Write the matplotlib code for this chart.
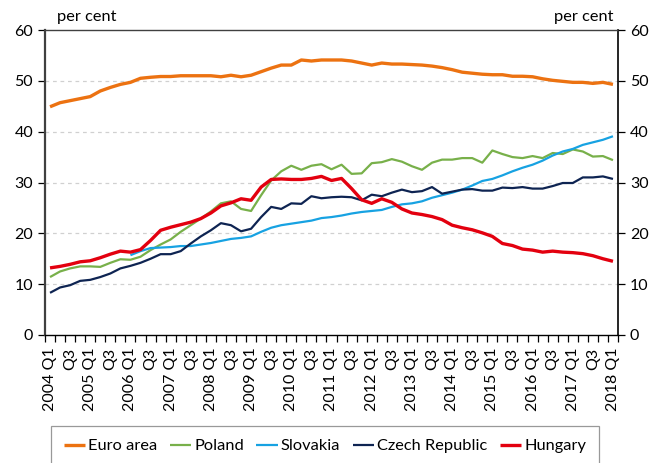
import matplotlib
matplotlib.use("Agg")
import matplotlib.pyplot as plt
import numpy as np

plt.rcParams['font.family'] = ['Lato', 'DejaVu Sans']

years = list(range(2004, 2019))
quarters = [f"{y} Q{q}" for y in years for q in (1, 2, 3, 4)][:57]
tick_labels = [f"{q.split()[0]} Q1" if q.endswith("Q1") else "Q3"
               for q in quarters if q.endswith("Q1") or q.endswith("Q3")]

euro_area = [44.9, 45.7, 46.1, 46.5, 46.9, 48.0, 48.7, 49.3, 49.7, 50.5,
             50.7, 50.85, 50.85, 51.0, 51.0, 51.0, 51.0, 50.8, 51.1, 50.8,
             51.1, 51.8, 52.5, 53.1, 53.1, 54.1, 53.9, 54.1, 54.1, 54.1,
             53.9, 53.5, 53.1, 53.5, 53.3, 53.3, 53.2, 53.1, 52.9, 52.6,
             52.2, 51.7, 51.5, 51.3, 51.2, 51.2, 50.9, 50.9, 50.8, 50.4,
             50.1, 49.9, 49.7, 49.7, 49.5, 49.7, 49.3]
poland = [11.4, 12.5, 13.1, 13.5, 13.5, 13.4, 14.2, 14.9, 14.8, 15.4,
          16.7, 17.8, 18.8, 20.3, 21.6, 22.9, 24.3, 25.9, 26.3, 24.8,
          24.4, 27.5, 30.4, 32.2, 33.3, 32.5, 33.3, 33.6, 32.6, 33.5,
          31.7, 31.8, 33.8, 34.0, 34.6, 34.1, 33.2, 32.5, 33.9, 34.5,
          34.5, 34.8, 34.8, 33.9, 36.3, 35.6, 35.0, 34.8, 35.2, 34.8,
          35.8, 35.6, 36.5, 36.1, 35.1, 35.2, 34.4]
slovakia = [np.nan] * 8 + [15.7, 16.5, 17.1, 17.2, 17.3, 17.5, 17.5, 17.8,
            18.1, 18.5, 18.9, 19.1, 19.4, 20.3, 21.1, 21.6, 21.9, 22.2,
            22.5, 23.0, 23.2, 23.5, 23.9, 24.2, 24.4, 24.6, 25.2, 25.7,
            25.9, 26.3, 27.0, 27.5, 28.0, 28.6, 29.4, 30.3, 30.7, 31.4,
            32.2, 32.9, 33.5, 34.3, 35.3, 36.1, 36.6, 37.4, 37.9, 38.4,
            39.1]
czech = [8.3, 9.35, 9.8, 10.65, 10.85, 11.4, 12.1, 13.1, 13.6, 14.2,
         15.0, 15.9, 15.9, 16.5, 18.0, 19.4, 20.6, 22.0, 21.6, 20.4,
         20.9, 23.2, 25.2, 24.8, 25.9, 25.8, 27.3, 26.9, 27.1, 27.2,
         27.1, 26.5, 27.6, 27.3, 28.0, 28.6, 28.1, 28.3, 29.1, 27.8,
         28.2, 28.6, 28.7, 28.4, 28.4, 29.0, 28.9, 29.1, 28.8, 28.8,
         29.3, 29.9, 29.9, 31.0, 31.0, 31.2, 30.7]
hungary = [13.2, 13.5, 13.9, 14.4, 14.6, 15.2, 15.9, 16.5, 16.3, 16.8,
           18.6, 20.6, 21.2, 21.7, 22.2, 22.9, 24.0, 25.4, 26.0, 26.8,
           26.5, 29.1, 30.6, 30.7, 30.6, 30.6, 30.8, 31.2, 30.4, 30.8,
           28.8, 26.6, 25.9, 26.8, 26.1, 24.8, 24.0, 23.7, 23.3, 22.7,
           21.6, 21.1, 20.7, 20.1, 19.4, 18.0, 17.6, 16.9, 16.7, 16.3,
           16.5, 16.3, 16.2, 16.0, 15.6, 15.0, 14.5]

series = [("Euro area", euro_area, "#EC7211", 2.4),
          ("Poland", poland, "#78B04A", 1.6),
          ("Slovakia", slovakia, "#17A2E2", 1.6),
          ("Czech Republic", czech, "#0E2452", 1.6),
          ("Hungary", hungary, "#E3000F", 2.4)]

fig = plt.figure(figsize=(6.53, 4.63), dpi=100)
ax = fig.add_axes([45/653, 1 - 335/463, 573/653, 305/463])
x = np.arange(len(quarters))

for name, vals, col, lw in series:
    ax.plot(x, vals, color=col, lw=lw, label=name, solid_capstyle='butt')

ax.set_xlim(-0.5, len(quarters) - 0.5)
ax.set_ylim(0, 60)
ax.set_yticks(range(0, 61, 10))
for yv in range(10, 60, 10):
    ax.axhline(yv, color='#D0D0D0', lw=0.9, ls=(0, (3, 3)), zorder=0)

ax.set_xticks(np.arange(-0.5, len(quarters)), minor=False)
ax.set_xticklabels([])
ax.set_xticks(np.arange(0, len(quarters), 2), minor=True)
ax.set_xticklabels(tick_labels, minor=True, rotation=90, fontsize=11.5)
ax.tick_params(axis='x', which='major', length=5, width=0.9, direction='out', color='black')
ax.tick_params(axis='x', which='minor', length=0, pad=9)
ax.tick_params(axis='y', length=5, width=0.9, labelsize=11.5, direction='out')

ax.spines['left'].set_color('#404040')
ax.spines['left'].set_linewidth(1.6)
ax.spines['bottom'].set_color('black')
ax.spines['bottom'].set_linewidth(1.0)
ax.spines['top'].set_color('#404040')
ax.spines['top'].set_linewidth(1.0)
ax.spines['right'].set_color('black')
ax.spines['right'].set_linewidth(1.2)

ax2 = ax.twinx()
ax2.set_ylim(0, 60)
ax2.set_yticks(range(0, 61, 10))
ax2.tick_params(axis='y', length=5, width=0.9, labelsize=11.5, direction='out')
for s in ax2.spines.values():
    s.set_visible(False)

fig.text(57/653, 1 - 17/463, "per cent", fontsize=11.8, va='center', ha='left')
fig.text(613/653, 1 - 17/463, "per cent", fontsize=11.8, va='center', ha='right')

leg = fig.legend(*ax.get_legend_handles_labels(), loc='center',
                 bbox_to_anchor=(325/653, 1 - 446/463), ncol=5, frameon=True,
                 fancybox=False, edgecolor='#808080', fontsize=11.8,
                 handlelength=1.3, handletextpad=0.2, columnspacing=0.75,
                 borderpad=0.75)
leg.get_frame().set_linewidth(0.9)

fig.savefig("out.png", dpi=100)
